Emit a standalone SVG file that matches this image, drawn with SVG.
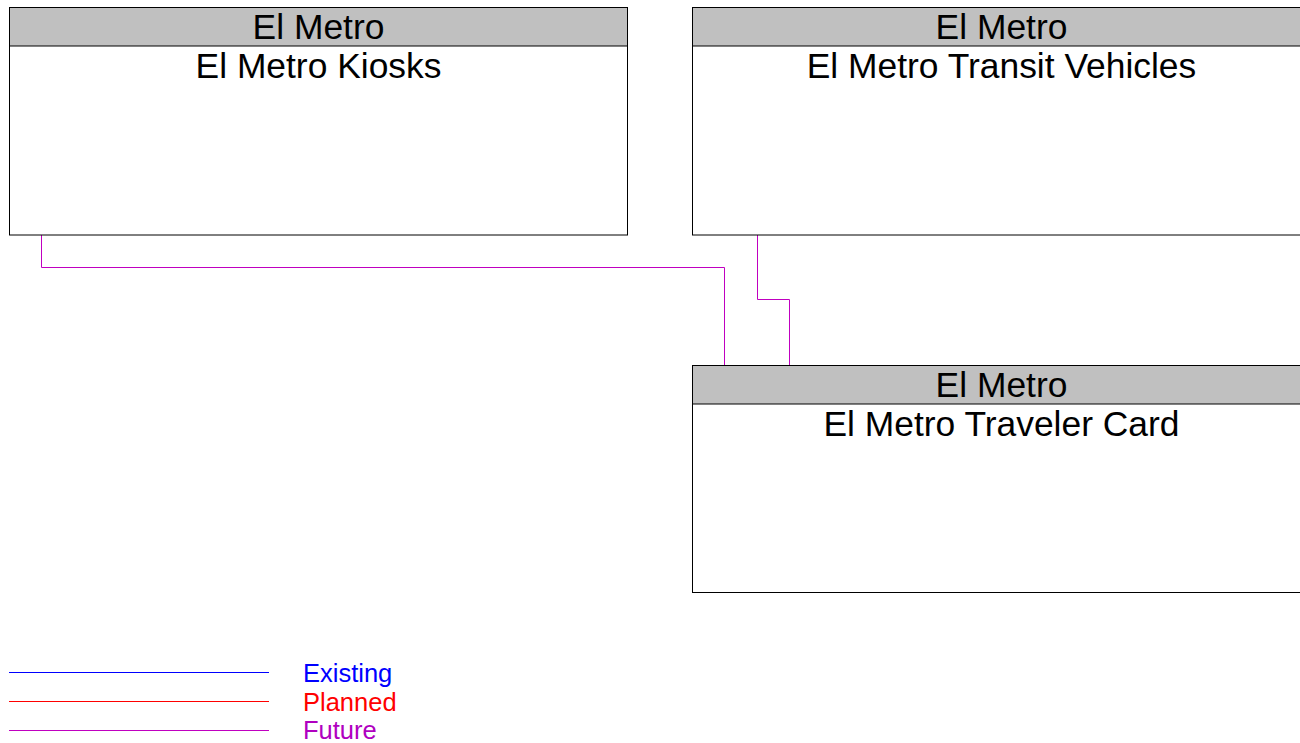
<svg xmlns="http://www.w3.org/2000/svg" width="1300" height="743" viewBox="0 0 1300 743">
<style>
.box{fill:#fff;stroke:#000;stroke-width:1}
.hdr{fill:#c0c0c0;stroke:#000;stroke-width:1}
.t{font-family:"Liberation Sans",Arial,sans-serif;font-size:35.4px;fill:#000;text-anchor:middle}
.c{fill:none;stroke:#c000c0;stroke-width:1}
.lg{font-family:"Liberation Sans",Arial,sans-serif;font-size:25.5px}
</style>
<rect width="1300" height="743" fill="#fff"/>
<g id="connectors">
<polyline class="c" points="41.5,235 41.5,267.5 724.5,267.5 724.5,365"/>
<polyline class="c" points="757.5,235 757.5,299.5 789.5,299.5 789.5,365"/>
</g>
<g id="kiosks">
<rect class="box" x="9.5" y="7.5" width="618" height="227.5"/>
<rect class="hdr" x="9.5" y="7.5" width="618" height="38.5"/>
<text class="t" x="318.5" y="39">El Metro</text>
<text class="t" x="318.5" y="78">El Metro Kiosks</text>
</g>
<g id="vehicles">
<rect class="box" x="692.5" y="7.5" width="618" height="227.5"/>
<rect class="hdr" x="692.5" y="7.5" width="618" height="38.5"/>
<text class="t" x="1001.5" y="39">El Metro</text>
<text class="t" x="1001.5" y="78">El Metro Transit Vehicles</text>
</g>
<g id="card">
<rect class="box" x="692.5" y="365.5" width="618" height="227"/>
<rect class="hdr" x="692.5" y="365.5" width="618" height="38.5"/>
<text class="t" x="1001.5" y="397">El Metro</text>
<text class="t" x="1001.5" y="436">El Metro Traveler Card</text>
</g>
<g id="legend">
<line x1="9" y1="672.5" x2="269" y2="672.5" stroke="#0000ff"/>
<line x1="9" y1="701.5" x2="269" y2="701.5" stroke="#ff0000"/>
<line x1="9" y1="730.5" x2="269" y2="730.5" stroke="#c000c0"/>
<text class="lg" x="303" y="682" fill="#0000ff">Existing</text>
<text class="lg" x="303" y="711" fill="#ff0000">Planned</text>
<text class="lg" x="303" y="739" fill="#b000c0">Future</text>
</g>
</svg>
